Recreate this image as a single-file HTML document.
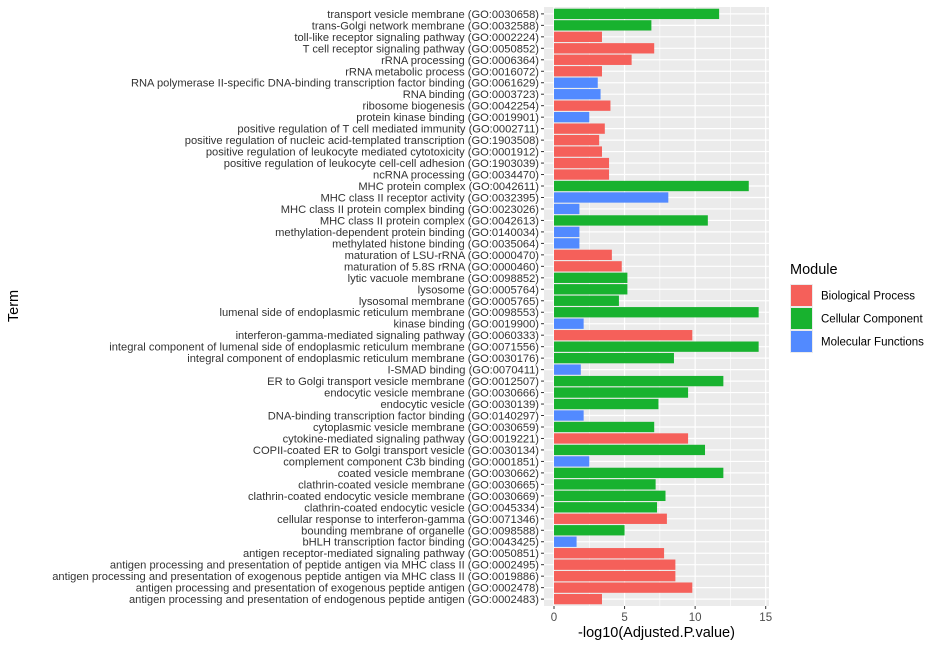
<!DOCTYPE html>
<html><head><meta charset="utf-8"><style>
body{margin:0;background:#fff;}
svg text{font-family:"Liberation Sans",Arial,sans-serif;}
</style></head><body>
<svg id="chart" width="941" height="647" xmlns="http://www.w3.org/2000/svg"></svg>
<script>
const terms=["transport vesicle membrane (GO:0030658)","trans-Golgi network membrane (GO:0032588)","toll-like receptor signaling pathway (GO:0002224)","T cell receptor signaling pathway (GO:0050852)","rRNA processing (GO:0006364)","rRNA metabolic process (GO:0016072)","RNA polymerase II-specific DNA-binding transcription factor binding (GO:0061629)","RNA binding (GO:0003723)","ribosome biogenesis (GO:0042254)","protein kinase binding (GO:0019901)","positive regulation of T cell mediated immunity (GO:0002711)","positive regulation of nucleic acid-templated transcription (GO:1903508)","positive regulation of leukocyte mediated cytotoxicity (GO:0001912)","positive regulation of leukocyte cell-cell adhesion (GO:1903039)","ncRNA processing (GO:0034470)","MHC protein complex (GO:0042611)","MHC class II receptor activity (GO:0032395)","MHC class II protein complex binding (GO:0023026)","MHC class II protein complex (GO:0042613)","methylation-dependent protein binding (GO:0140034)","methylated histone binding (GO:0035064)","maturation of LSU-rRNA (GO:0000470)","maturation of 5.8S rRNA (GO:0000460)","lytic vacuole membrane (GO:0098852)","lysosome (GO:0005764)","lysosomal membrane (GO:0005765)","lumenal side of endoplasmic reticulum membrane (GO:0098553)","kinase binding (GO:0019900)","interferon-gamma-mediated signaling pathway (GO:0060333)","integral component of lumenal side of endoplasmic reticulum membrane (GO:0071556)","integral component of endoplasmic reticulum membrane (GO:0030176)","I-SMAD binding (GO:0070411)","ER to Golgi transport vesicle membrane (GO:0012507)","endocytic vesicle membrane (GO:0030666)","endocytic vesicle (GO:0030139)","DNA-binding transcription factor binding (GO:0140297)","cytoplasmic vesicle membrane (GO:0030659)","cytokine-mediated signaling pathway (GO:0019221)","COPII-coated ER to Golgi transport vesicle (GO:0030134)","complement component C3b binding (GO:0001851)","coated vesicle membrane (GO:0030662)","clathrin-coated vesicle membrane (GO:0030665)","clathrin-coated endocytic vesicle membrane (GO:0030669)","clathrin-coated endocytic vesicle (GO:0045334)","cellular response to interferon-gamma (GO:0071346)","bounding membrane of organelle (GO:0098588)","bHLH transcription factor binding (GO:0043425)","antigen receptor-mediated signaling pathway (GO:0050851)","antigen processing and presentation of peptide antigen via MHC class II (GO:0002495)","antigen processing and presentation of exogenous peptide antigen via MHC class II (GO:0019886)","antigen processing and presentation of exogenous peptide antigen (GO:0002478)","antigen processing and presentation of endogenous peptide antigen (GO:0002483)"];
const values=[11.7,6.9,3.4,7.1,5.5,3.4,3.1,3.3,4.0,2.5,3.6,3.2,3.4,3.9,3.9,13.8,8.1,1.8,10.9,1.8,1.8,4.1,4.8,5.2,5.2,4.6,14.5,2.1,9.8,14.5,8.5,1.9,12.0,9.5,7.4,2.1,7.1,9.5,10.7,2.5,12.0,7.2,7.9,7.3,8.0,5.0,1.6,7.8,8.6,8.6,9.8,3.4];
const modules=["CC","CC","BP","BP","BP","BP","MF","MF","BP","MF","BP","BP","BP","BP","BP","CC","MF","MF","CC","MF","MF","BP","BP","CC","CC","CC","CC","MF","BP","CC","CC","MF","CC","CC","CC","MF","CC","BP","CC","MF","CC","CC","CC","CC","BP","CC","MF","BP","BP","BP","BP","BP"];
const xTicks=[0,5,10,15];
const legendKeys=["BP","CC","MF"];
const legendLabels=["Biological Process","Cellular Component","Molecular Functions"];
const colors={BP:"#F5605A",CC:"#18B22F",MF:"#528AFF"};
const NS="http://www.w3.org/2000/svg";
const svg=document.getElementById("chart");
function el(t,a,p){const e=document.createElementNS(NS,t);for(const k in a)e.setAttribute(k,a[k]);(p||svg).appendChild(e);return e;}
const L=544,R=769,T=7,B=606;
const x0=554,pxU=(765.7-554)/15;
const xs=v=>x0+v*pxU;
const step=(B-T)/(terms.length+0.2);
const ys=i=>T+step*0.6+i*step;
const bg=el("rect",{x:L,y:T,width:R-L,height:B-T,fill:"#EBEBEB"});


for(let v=2.5;v<16;v+=5){const g=el("line",{x1:xs(v),x2:xs(v),y1:T,y2:B,stroke:"#fff","stroke-width":0.6});}
xTicks.forEach(v=>{const g=el("line",{x1:xs(v),x2:xs(v),y1:T,y2:B,stroke:"#fff","stroke-width":1.2});
const tk=el("line",{x1:xs(v),x2:xs(v),y1:B,y2:B+3,stroke:"#333","stroke-width":1});
const t=el("text",{x:xs(v),y:B+15,"text-anchor":"middle","font-size":11.5,fill:"#4D4D4D"});t.textContent=v;});
terms.forEach((term,i)=>{const y=ys(i);
const g=el("line",{x1:L,x2:R,y1:y,y2:y,stroke:"#fff","stroke-width":1.2});
const b=el("rect",{x:xs(0),y:y-step*0.45,width:xs(values[i])-xs(0),height:step*0.9,fill:colors[modules[i]]});


const tk=el("line",{x1:L-3,x2:L,y1:y,y2:y,stroke:"#333","stroke-width":1});
const t=el("text",{x:L-5,y:y+4,"text-anchor":"end","font-size":11.15,fill:"#333"});t.textContent=term;

});
const xt=el("text",{x:(L+R)/2,y:637,"text-anchor":"middle","font-size":14.5,fill:"#000"});xt.textContent="-log10(Adjusted.P.value)";
const yt=el("text",{x:0,y:0,"text-anchor":"middle","font-size":14.5,fill:"#000",transform:"translate(18,306) rotate(-90)"});yt.textContent="Term";
const lt=el("text",{x:790,y:274,"font-size":14.5,fill:"#000"});lt.textContent="Module";
legendKeys.forEach((k,i)=>{const y=284+i*23;
const bx=el("rect",{x:790,y:y,width:23,height:23,fill:"#EBEBEB"});
const s=el("rect",{x:791,y:y+1,width:21,height:21,fill:colors[k]});
const t=el("text",{x:821,y:y+15.5,"font-size":11.5,fill:"#000"});t.textContent=legendLabels[i];});
</script>
</body></html>
